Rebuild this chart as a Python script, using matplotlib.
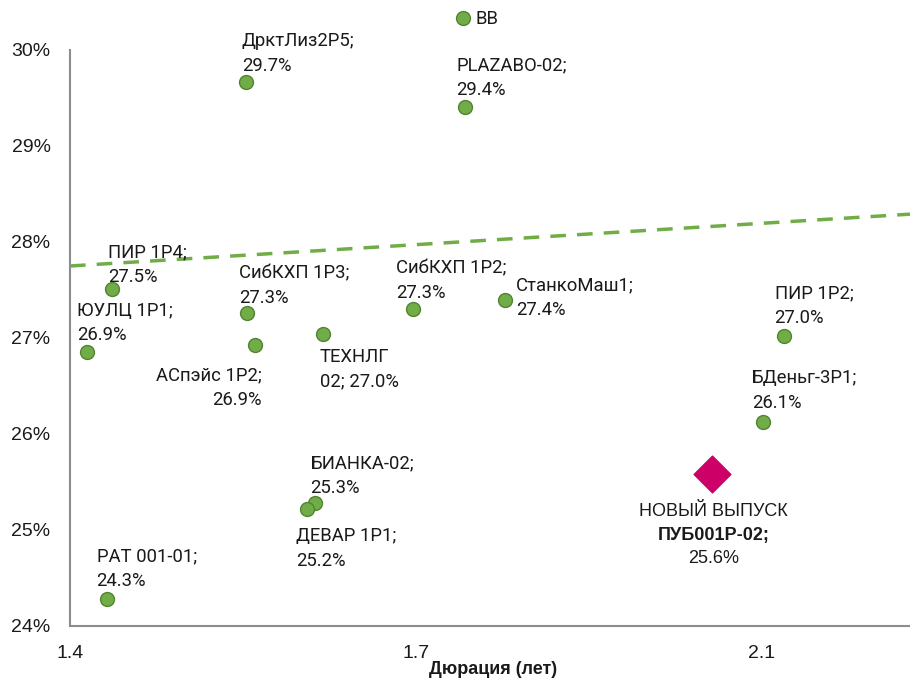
import matplotlib
matplotlib.use("Agg")
import matplotlib.pyplot as plt

# облигации: дюрация (лет) и доходность (%)
names = ["BB", "ДрктЛиз2Р5;\n29.7%", "PLAZABO-02;\n29.4%", "ПИР 1Р4;\n27.5%",
         "ЮУЛЦ 1Р1;\n26.9%", "СибКХП 1Р3;\n27.3%", "СибКХП 1Р2;\n27.3%",
         "СтанкоМаш1;\n27.4%", "ТЕХНЛГ\n02; 27.0%", "АСпэйс 1Р2;\n26.9%",
         "ПИР 1Р2;\n27.0%", "БДеньг-3Р1;\n26.1%", "БИАНКА-02;\n25.3%",
         "ДЕВАР 1Р1;\n25.2%", "РАТ 001-01;\n24.3%"]
duration = [1.798, 1.578, 1.800, 1.4425, 1.417, 1.579, 1.747, 1.840, 1.656,
            1.587, 2.122, 2.101, 1.648, 1.640, 1.437]
ytm = [30.33, 29.67, 29.41, 27.51, 26.85, 27.26, 27.30, 27.40, 27.04,
       26.93, 27.02, 26.125, 25.28, 25.22, 24.28]

new_x = 2.050
new_y = 25.58
new_lines = ["НОВЫЙ ВЫПУСК", "ПУБ001Р-02;", "25.6%"]

trend_x = [1.4, 2.25]
trend_y = [27.75, 28.29]

yticks = [24, 25, 26, 27, 28, 29, 30]
xticks = [1.4, 1.75, 2.1]
xtick_labels = ["1.4", "1.7", "2.1"]

# смещения подписей (пиксели, до базовой линии последней строки) и выравнивание
offsets = [(12, -6, "left"), (-4, 11, "left"), (-9, 12, "left"), (-4, 7, "left"),
           (-10, 12, "left"), (-8, 10, "left"), (-17, 11, "left"), (11, -15, "left"),
           (-3, -52, "left"), (7, -60, "right"), (-9, 13, "left"), (-11, 14, "left"),
           (-5, 10, "left"), (-11, -57, "left"), (-10, 13, "left")]

green = "#70AD47"
sans = ["Liberation Sans", "DejaVu Sans"]

fig = plt.figure(figsize=(9.1, 6.81), dpi=100)
ax = fig.add_axes([70 / 910, 55 / 681, 840 / 910, 576 / 681])

ax.plot(trend_x, trend_y, color=green, lw=2.5, dashes=(4.5, 3.2), zorder=2)
ax.scatter(duration, ytm, s=100, color=green, edgecolor="#548235", linewidth=1,
           zorder=3, clip_on=False)
ax.scatter([new_x], [new_y], s=350, marker="D", color="#CC0066", zorder=3)

for x, y, t, (dx, dy, ha) in zip(duration, ytm, names, offsets):
    ax.annotate(t, (x, y), xytext=(dx, dy), textcoords="offset pixels",
                ha=ha, va="baseline", ma=ha, fontsize=13.3, family="Roboto",
                color="#1a1a1a", linespacing=1.47, annotation_clip=False)

for i, t in enumerate(new_lines):
    ax.annotate(t, (new_x, new_y), xytext=(1, -42 - 23.5 * i),
                textcoords="offset pixels", ha="center", va="baseline",
                fontsize=13, family=sans, color="#1a1a1a",
                weight="bold" if i == 1 else "normal")

ax.set_xlim(1.4, 2.25)
ax.set_ylim(24, 30)
ax.set_yticks(yticks)
ax.set_yticklabels([f"{v}%" for v in yticks])
ax.set_xticks(xticks)
ax.set_xticklabels(xtick_labels)
ax.tick_params(length=0, labelsize=14, colors="#1a1a1a")
ax.tick_params(axis="y", pad=14)
ax.tick_params(axis="x", pad=13.5)
for lab in ax.get_xticklabels() + ax.get_yticklabels():
    lab.set_family(sans)

for s in ["top", "right"]:
    ax.spines[s].set_visible(False)
for s in ["left", "bottom"]:
    ax.spines[s].set_color("#8c8c8c")
    ax.spines[s].set_linewidth(1.5)

fig.text(493 / 910, 1 - 669 / 681, "Дюрация (лет)", ha="center", va="center",
         fontsize=13, weight="bold", family=sans, color="#1a1a1a")

fig.savefig("out.png", dpi=100)
